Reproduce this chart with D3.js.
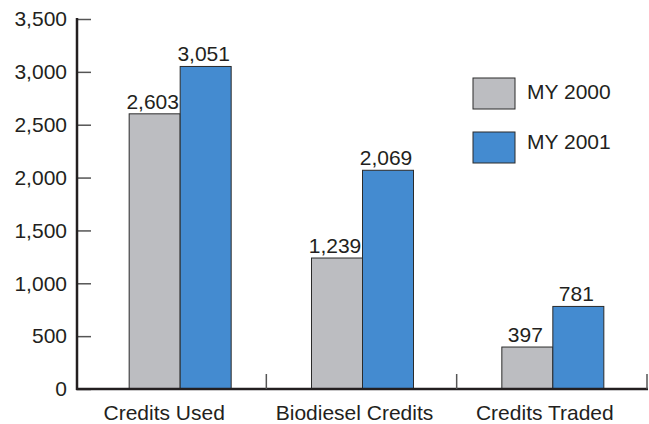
<!DOCTYPE html>
<meta charset="utf-8">
<script src="https://d3js.org/d3.v7.min.js"></script>
<style>
body { margin: 0; background: #fff; }
text { font-family: "Liberation Sans", Arial, sans-serif; fill: #231f20; }
.lbl { font-size: 21px; }
</style>
<div id="plot"></div>
<script>
// data
var categories = ["Credits Used", "Biodiesel Credits", "Credits Traded"];
var seriesNames = ["MY 2000", "MY 2001"];
var my2000 = [2603, 1239, 397];
var my2001 = [3051, 2069, 781];
var yTicks = [0, 500, 1000, 1500, 2000, 2500, 3000, 3500];

var colors = ["#bcbdc1", "#448bd0"];
var W = 649, H = 424;
var mLeft = 77, mRight = 648, mTop = 19, mBottom = 389;

var svg = d3.select("#plot").append("svg")
    .attr("width", W).attr("height", H);

var x = d3.scaleBand().domain(categories).range([mLeft, mRight]);
var y = d3.scaleLinear().domain([0, 3500]).range([mBottom, mTop]);
var barW = 51;

var rows = categories.map(function(c, i) { return [my2000[i], my2001[i]]; });

// bars
var groups = svg.selectAll(".grp").data(rows).enter().append("g")
    .attr("transform", function(d, i) {
      var cx = x(categories[i]) + x.bandwidth() / 2 + (i == 0 ? 8 : 0);
      return "translate(" + (cx - barW) + ",0)";
    });

groups.selectAll("rect").data(function(d) { return d; }).enter().append("rect")
    .attr("x", function(d, j) { return j * barW; })
    .attr("y", function(d) { return y(d); })
    .attr("width", barW)
    .attr("height", function(d) { return y(0) - y(d); })
    .attr("fill", function(d, j) { return colors[j]; })
    .attr("stroke", "#2b2b2b")
    .attr("stroke-width", 1);

groups.selectAll("text").data(function(d) { return d; }).enter().append("text")
    .attr("class", "lbl")
    .attr("x", function(d, j) { return j * barW + barW / 2 - 2; })
    .attr("y", function(d) { return y(d) - 5; })
    .attr("text-anchor", "middle")
    .text(function(d) { return d3.format(",")(d); });

// y axis
var yAxis = d3.axisLeft(y).tickValues(yTicks).tickSize(-14).tickPadding(10)
    .tickFormat(d3.format(","));
var ya = svg.append("g").attr("transform", "translate(" + mLeft + ",0)").call(yAxis);
ya.select(".domain").remove();
ya.selectAll(".tick line").attr("stroke", "#555").attr("stroke-width", 1.5);
ya.selectAll(".tick text").attr("class", "lbl").style("font-size", "21px")
    .attr("fill", "#231f20").attr("font-family", null);

svg.append("line").attr("x1", mLeft).attr("x2", mLeft)
    .attr("y1", mTop - 1).attr("y2", mBottom + 1)
    .attr("stroke", "#231f20").attr("stroke-width", 2.5);

// x axis baseline and separators
svg.append("line").attr("x1", mLeft - 1).attr("x2", mRight)
    .attr("y1", mBottom).attr("y2", mBottom)
    .attr("stroke", "#231f20").attr("stroke-width", 2.5);

svg.selectAll(".sep").data(categories).enter().append("line")
    .attr("x1", function(d) { return x(d) + x.bandwidth() - 1; })
    .attr("x2", function(d) { return x(d) + x.bandwidth() - 1; })
    .attr("y1", mBottom).attr("y2", mBottom - 15)
    .attr("stroke", "#555").attr("stroke-width", 1.5);

svg.selectAll(".cat").data(categories).enter().append("text")
    .attr("class", "lbl")
    .attr("x", function(d) { return x(d) + x.bandwidth() / 2 - 8; })
    .attr("y", 420)
    .attr("text-anchor", "middle")
    .text(function(d) { return d; });

// legend
var lg = svg.selectAll(".legend").data(seriesNames).enter().append("g");
lg.append("rect")
    .attr("x", 473).attr("y", function(d, i) { return 78 + i * 54; })
    .attr("width", 42).attr("height", 31)
    .attr("fill", function(d, i) { return colors[i]; })
    .attr("stroke", "#2b2b2b").attr("stroke-width", 1);
lg.append("text").attr("class", "lbl")
    .attr("x", 527).attr("y", function(d, i) { return 99 + i * 50; })
    .text(function(d) { return d; });
</script>
